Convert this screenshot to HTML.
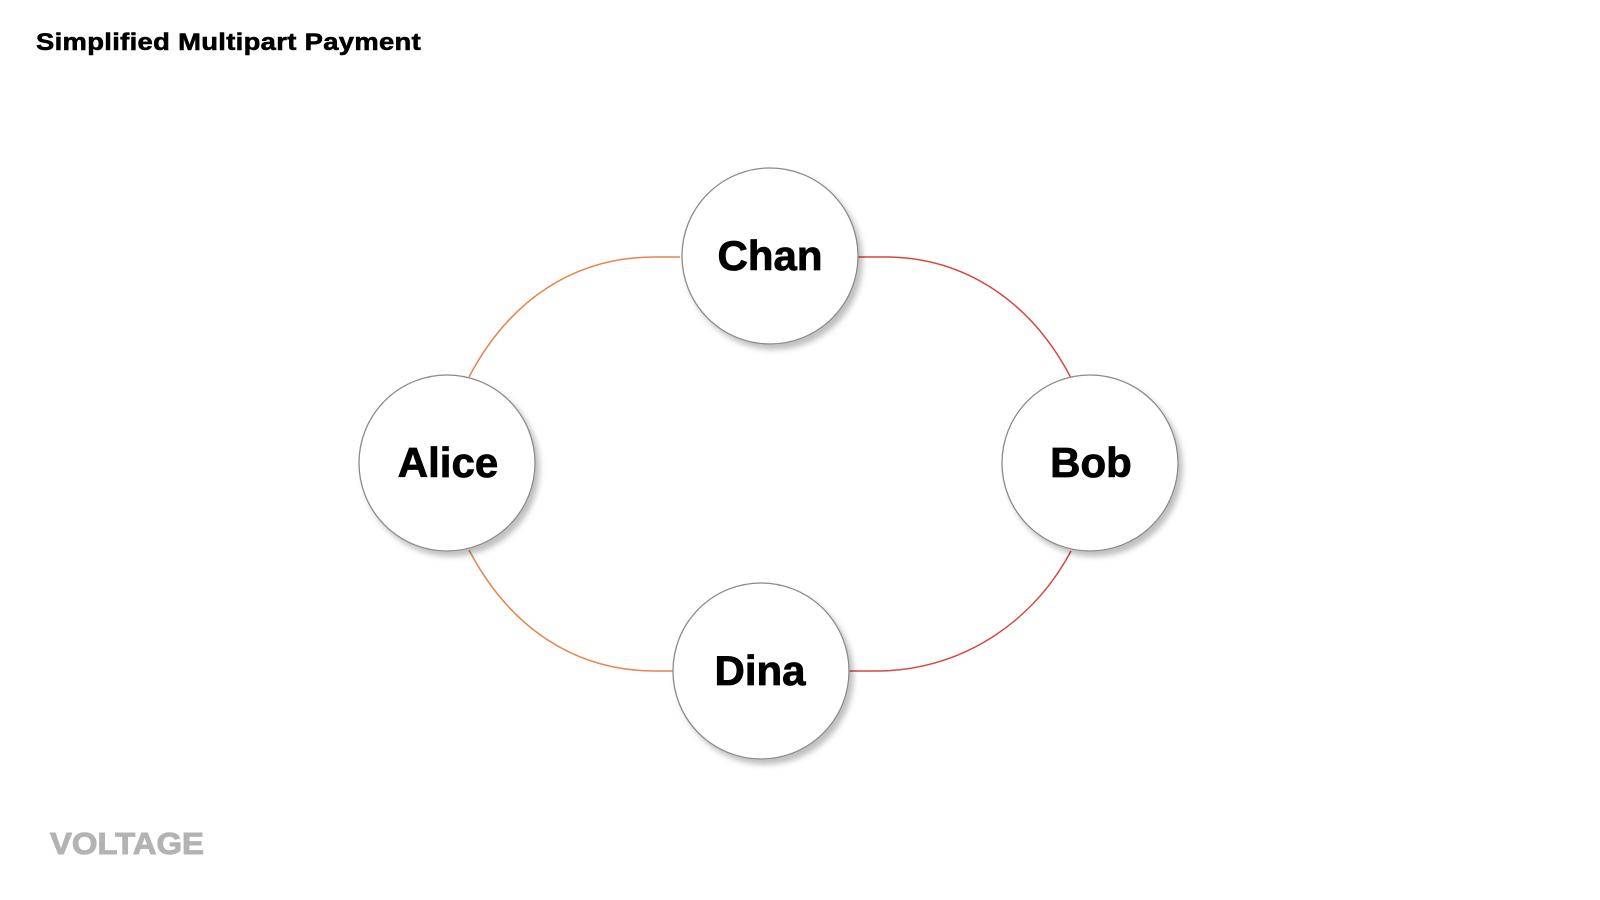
<!DOCTYPE html>
<html><head><meta charset="utf-8"><style>
html,body{margin:0;padding:0;background:#fff;}
body{width:1600px;height:900px;position:relative;overflow:hidden;font-family:"Liberation Sans",Arial,sans-serif;}
.t{position:absolute;left:36px;top:29px;font-size:24px;font-weight:bold;color:#000;letter-spacing:0.3px;transform:scaleX(1.14);transform-origin:0 0;-webkit-text-stroke:0.6px #000;}
.logo{position:absolute;left:50px;top:826px;font-size:31px;font-weight:900;color:#b3b3b3;transform:scaleX(1.06);transform-origin:0 0;-webkit-text-stroke:1px #b3b3b3;}
</style></head><body>
<div class="t">Simplified Multipart Payment</div>
<svg width="1600" height="900" style="position:absolute;left:0;top:0">
<defs><filter id="s" x="-20%" y="-20%" width="150%" height="150%"><feDropShadow dx="4" dy="5" stdDeviation="3" flood-color="#000" flood-opacity="0.25"/></filter></defs>
<g fill="none" stroke-width="1.5">
<path d="M680 257 H655 C575 257 510 299 469 377" stroke="#e8834a"/>
<path d="M469 550 C510 628 575 671 655 671 H674" stroke="#e8834a"/>
<path d="M856 257 H885 C962 257 1030 299 1071 378" stroke="#d9453c"/>
<path d="M848 671 H877 C955 671 1030 628 1071 551" stroke="#d9453c"/>
</g>
<g fill="#fff" stroke="#8a8a8a" stroke-width="1.3" filter="url(#s)">
<circle cx="770" cy="256" r="88"/>
<circle cx="447" cy="463" r="88"/>
<circle cx="1090" cy="463" r="88"/>
<circle cx="761" cy="671" r="88"/>
</g>
<g font-family="Liberation Sans, Arial, sans-serif" font-weight="bold" font-size="42" text-anchor="middle" fill="#000" stroke="#000" stroke-width="0.8">
<text x="770" y="270">Chan</text>
<text x="448" y="477">Alice</text>
<text x="1091" y="477">Bob</text>
<text x="760" y="685">Dina</text>
</g>
</svg>
<div class="logo">VOLTAGE</div>
</body></html>
